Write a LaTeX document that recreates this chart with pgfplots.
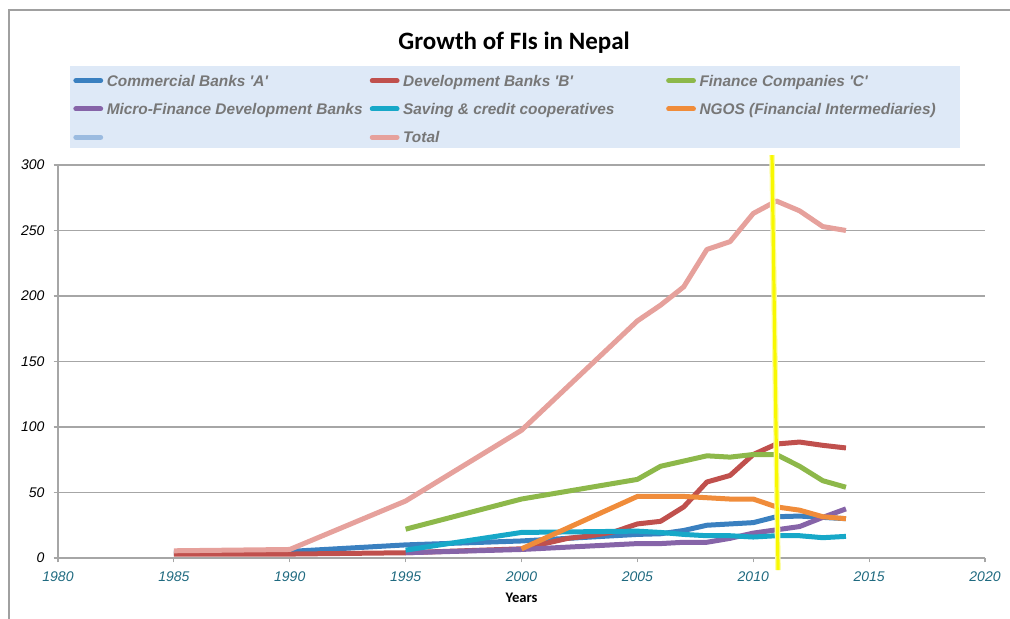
\documentclass[border=0pt]{standalone}
\usepackage{fontspec}
\setmainfont{Liberation Sans}
\newfontfamily\carlito{Carlito}
\usepackage{pgfplots}
\pgfplotsset{compat=1.18}

\definecolor{cblue}{HTML}{3A80C0}
\definecolor{cred}{HTML}{C0504D}
\definecolor{cgreen}{HTML}{8DB84A}
\definecolor{cpurple}{HTML}{8664A8}
\definecolor{ccyan}{HTML}{17A8C8}
\definecolor{corange}{HTML}{F08C3A}
\definecolor{clight}{HTML}{9BBBE0}
\definecolor{cpink}{HTML}{E6A19C}
\definecolor{gridgray}{HTML}{A6A6A6}
\definecolor{framegray}{HTML}{A0A0A0}
\definecolor{legendbg}{HTML}{DEE9F7}
\definecolor{legendgray}{HTML}{777777}
\definecolor{tickteal}{HTML}{1F6A80}
\definecolor{hiyellow}{HTML}{F8F800}

\begin{document}
\begin{tikzpicture}
\begin{axis}[
  at={(29pt,30.5pt)}, anchor=south west,
  scale only axis, width=463.5pt, height=196.5pt,
  xmin=1980, xmax=2020, ymin=0, ymax=300,
  xtick={1980,1985,...,2020}, ytick={0,50,...,300},
  axis x line*=bottom, axis y line*=left,
  axis line style={draw=gridgray, line width=0.6pt},
  ymajorgrids, major grid style={draw=gridgray, line width=0.6pt},
  tick align=outside, major tick length=2.2pt,
  tick style={draw=gridgray, line width=0.6pt},
  /pgf/number format/assume math mode=true,
  /pgf/number format/1000 sep={},
  xticklabel style={font=\fontsize{7}{8}\selectfont\itshape, text=tickteal, yshift=-1pt},
  yticklabel style={font=\fontsize{7}{8}\selectfont\itshape, text=black, xshift=-1pt},
  xlabel={Years},
  xlabel style={font=\carlito\bfseries\fontsize{7.3}{8}\selectfont,
    at={(axis description cs:0.5,0)}, anchor=center, yshift=-20pt},
  title={Growth of FIs in Nepal},
  title style={font=\carlito\bfseries\fontsize{12.5}{14}\selectfont,
    at={(axis description cs:0.492,1.280)}, anchor=center},
  legend columns=3,
  legend style={at={(axis description cs:0.0129,1.2519)}, anchor=north west,
    draw=none, fill=legendbg, inner xsep=1.5pt, inner ysep=1.85pt,
    column sep=0pt, row sep=5.15pt,
    font=\fontsize{7.7}{9}\selectfont\bfseries\itshape, text=legendgray,
    nodes={inner sep=0pt, text height=8pt, text depth=1pt}},
  legend image code/.code={
    \path (0pt,0pt) (13.5pt,0pt);
    \draw[#1, line width=2.5pt, line cap=round] (-0.7pt,-0.8pt) -- (11.7pt,-0.8pt);},
  every axis plot/.append style={line width=2.5pt, line join=round},
  clip=false,
]

\addplot[cblue] coordinates {(1985,4) (1990,5) (1995,10) (2000,13) (2005,18) (2006,18.5)
  (2007,21) (2008,25) (2009,26) (2010,27) (2011,31.5) (2012,32) (2013,31) (2014,30)};
\addlegendentry{\makebox[131.5pt][l]{Commercial Banks \textquotesingle A\textquotesingle}}

\addplot[cred] coordinates {(1985,3) (1990,3) (1995,4) (2000,7) (2001,11) (2002,15)
  (2003,17) (2004,20) (2005,26) (2006,28) (2007,39) (2008,58) (2009,63) (2010,79)
  (2011,87) (2012,88.5) (2013,86) (2014,84)};
\addlegendentry{\makebox[131.5pt][l]{Development Banks \textquotesingle B\textquotesingle}}

\addplot[cgreen] coordinates {(1995,22) (2000,45) (2005,60) (2006,70) (2007,74) (2008,78)
  (2009,77) (2010,79) (2011,79) (2012,70) (2013,59) (2014,54)};
\addlegendentry{\makebox[128.5pt][l]{Finance Companies \textquotesingle C\textquotesingle}}

\addplot[cpurple] coordinates {(1995,4) (2000,6.5) (2005,11) (2006,11) (2007,12) (2008,12)
  (2009,15) (2010,19) (2011,21.5) (2012,24) (2013,31) (2014,37.5)};
\addlegendentry{\makebox[131.5pt][l]{Micro-Finance Development Banks}}

\addplot[ccyan] coordinates {(1995,6) (2000,19.5) (2005,20.5) (2006,19.5) (2007,18)
  (2008,17) (2009,17) (2010,16) (2011,17) (2012,17) (2013,15.5) (2014,16.5)};
\addlegendentry{\makebox[131.5pt][l]{Saving \& credit cooperatives}}

\addplot[corange] coordinates {(2000,7) (2005,47) (2006,47) (2007,47) (2008,46) (2009,45)
  (2010,45) (2011,39) (2012,36.5) (2013,31.5) (2014,30)};
\addlegendentry{\makebox[128.5pt][l]{NGOS (Financial Intermediaries)}}

\addlegendimage{clight, line width=2.5pt}
\addlegendentry{\makebox[131.5pt][l]{}}

\addplot[cpink] coordinates {(1985,5.5) (1990,6.5) (1995,43.5) (2000,97.5) (2005,181)
  (2006,193) (2007,207) (2008,235.5) (2009,241.5) (2010,263) (2011,272.5) (2012,265)
  (2013,253) (2014,250)};
\addlegendentry{\makebox[131.5pt][l]{Total}}

% hand-drawn highlight marker
\addplot[hiyellow!35, line width=2.8pt, forget plot] coordinates {(2010.81,307.6) (2011.07,-9.2)};
\addplot[hiyellow, line width=1.6pt, forget plot] coordinates {(2010.81,307.6) (2011.07,-9.2)};
\end{axis}

\draw[framegray, line width=0.75pt] (4.5pt,0pt) -- (4.5pt,304.5pt) -- (505pt,304.5pt);
\pgfresetboundingbox
\useasboundingbox (0pt,0pt) rectangle (505pt,309.5pt);
\end{tikzpicture}
\end{document}
